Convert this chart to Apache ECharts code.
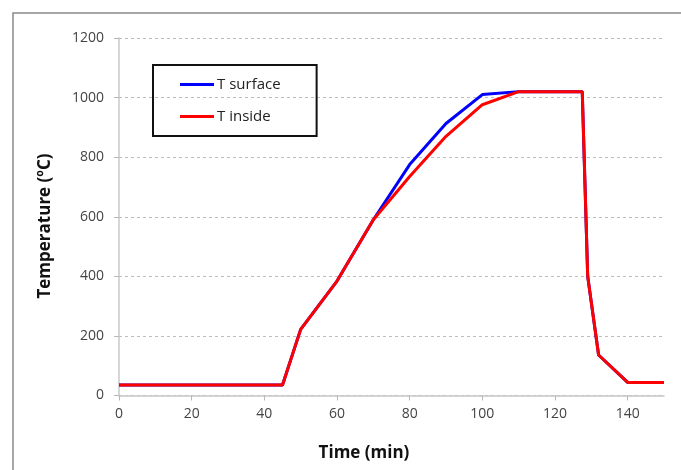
<!DOCTYPE html>
<html><head><meta charset="utf-8">
<script src="https://cdn.jsdelivr.net/npm/echarts@6/dist/echarts.min.js"></script>
<style>html,body{margin:0;padding:0;background:#fff}#c{width:681px;height:470px}</style>
</head><body><div id="c"></div>
<script>
var timeMin = [0, 45, 50, 60, 70, 80, 90, 100, 110, 127.5, 129, 132, 140, 150];
var tSurface = [35, 35, 222, 384, 590, 775, 913, 1010, 1020, 1020, 400, 136, 44, 44];
var tInside  = [35, 35, 222, 384, 590, 735, 870, 976, 1020, 1020, 400, 136, 44, 44];
var xTicks = [0, 20, 40, 60, 80, 100, 120, 140];
var xTitle = 'Time (min)';
var yTitle = 'Temperature (ºC)';

function pairs(xs, ys){ return xs.map(function(x,i){ return [x, ys[i]]; }); }
var font = '"Open Sans", "Noto Sans", sans-serif';
var chart = echarts.init(document.getElementById('c'));
chart.setOption({
  animation: false,
  backgroundColor: '#fff',
  graphic: [
    {type:'rect', shape:{x:13, y:13, width:720, height:520}, style:{fill:'none', stroke:'#8a8a8a', lineWidth:1.5}, silent:true},
    {type:'text', x:364, y:453, style:{text:xTitle, font:'bold 17px ' + font, fill:'#111', align:'center', verticalAlign:'middle'}},
    {type:'text', x:45, y:226, rotation:Math.PI/2, style:{text:yTitle, font:'bold 17px ' + font, fill:'#111', align:'center', verticalAlign:'middle'}}
  ],
  grid: {left:119, right:17, top:38, bottom:74.5},
  legend: {
    left: 153, top: 65, orient: 'vertical',
    borderColor: '#111', borderWidth: 2, borderRadius: 0,
    padding: [12, 36, 12, 27], itemGap: 17,
    itemWidth: 34, itemHeight: 3, icon: 'rect',
    textStyle: {fontFamily: font, fontSize: 15, color: '#222', padding:[0,0,0,-2]},
    data: ['T surface', 'T inside']
  },
  xAxis: {
    type: 'value', min: 0, max: 150, interval: 20,
    axisLine: {lineStyle: {color: '#c8c8c8', width: 1.5}},
    axisTick: {show: true, length: 5, lineStyle: {color: '#b8b8b8'}, customValues: xTicks},
    axisLabel: {fontFamily: font, fontSize: 14, color: '#444', margin: 12, customValues: xTicks},
    splitLine: {show: false}
  },
  yAxis: {
    type: 'value', min: 0, max: 1200, interval: 200,
    axisLine: {show: true, lineStyle: {color: '#c8c8c8', width: 1.5}},
    axisTick: {show: true, length: 5, lineStyle: {color: '#b8b8b8'}},
    axisLabel: {fontFamily: font, fontSize: 14, color: '#444', margin: 15, formatter: function(v){ return String(v); }},
    splitLine: {show: true, lineStyle: {color: '#bdbdbd', type: [3, 3], width: 1}}
  },
  series: [
    {name: 'T surface', type: 'line', data: pairs(timeMin, tSurface), showSymbol: false, symbol: 'none',
     lineStyle: {color: '#0000ff', width: 3}, itemStyle: {color: '#0000ff'}, z: 2},
    {name: 'T inside', type: 'line', data: pairs(timeMin, tInside), showSymbol: false, symbol: 'none',
     lineStyle: {color: '#ff0000', width: 3}, itemStyle: {color: '#ff0000'}, z: 3}
  ]
});
</script></body></html>
